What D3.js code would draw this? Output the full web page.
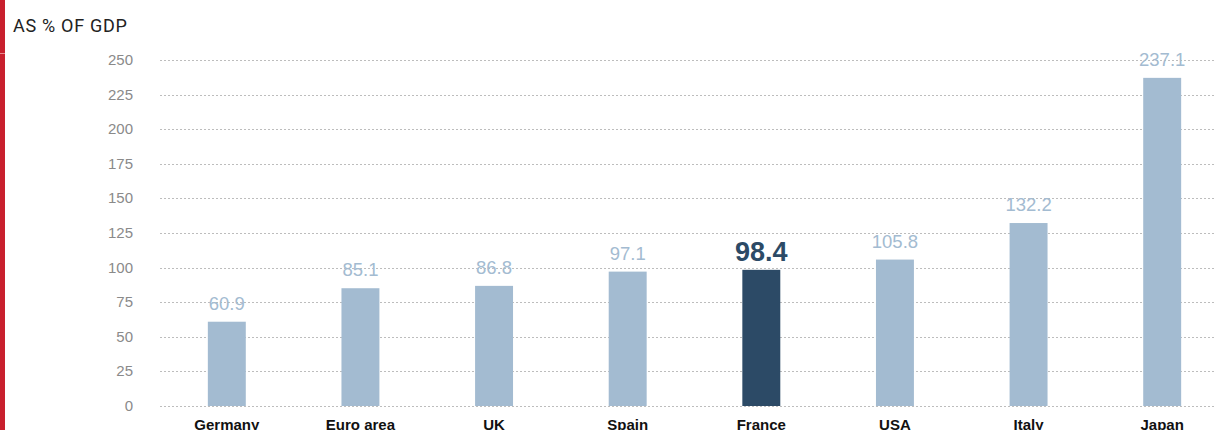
<!DOCTYPE html>
<meta charset="utf-8">
<head>
    <script src="https://d3js.org/d3.v7.min.js"></script>
</head>
<body style="margin:0; background:#fff;">
    <div id="svg_div"></div>
</body>
<script>

    var countries = ["Germany", "Euro area", "UK", "Spain", "France", "USA", "Italy", "Japan"];
    var debt_values = [60.9, 85.1, 86.8, 97.1, 98.4, 105.8, 132.2, 237.1];
    var y_ticks = [0, 25, 50, 75, 100, 125, 150, 175, 200, 225, 250];
    var highlight = "France";

    var width = 1214, height = 430;

    var svg = d3.select("#svg_div").append("svg")
        .attr("width", width)
        .attr("height", height)
        .style("display", "block");

    // red stripe on the left
    svg.append("rect")
        .attr("x", 0).attr("y", 0)
        .attr("width", 5).attr("height", height)
        .attr("fill", "#c8202e");
    svg.append("line")
        .attr("x1", 0).attr("x2", 5)
        .attr("y1", 53.5).attr("y2", 53.5)
        .attr("stroke", "#e88a90").attr("stroke-width", 1);

    svg.append("text")
        .attr("x", 13).attr("y", 32)
        .style("font-family", "Roboto, sans-serif")
        .style("font-size", "18px")
        .style("letter-spacing", "0.7px")
        .attr("fill", "#222")
        .text("AS % OF GDP");

    let x = d3.scaleBand()
        .domain(countries)
        .range([160, 1229])
        .paddingInner(0.716)
        .paddingOuter(0.358);

    let y = d3.scaleLinear()
        .domain([0, 250])
        .range([406, 60]);

    // grid lines
    svg.append("g")
        .selectAll("line")
        .data(y_ticks)
        .enter().append("line")
        .attr("x1", 160).attr("x2", width)
        .attr("y1", d => Math.round(y(d)) + 0.5)
        .attr("y2", d => Math.round(y(d)) + 0.5)
        .attr("stroke", "#bdbdbd")
        .attr("stroke-width", 1)
        .attr("stroke-dasharray", "2,2");

    // y tick labels
    svg.append("g")
        .selectAll("text")
        .data(y_ticks)
        .enter().append("text")
        .attr("x", 133)
        .attr("y", d => y(d) + 5)
        .attr("text-anchor", "end")
        .style("font-family", "Arial, 'Liberation Sans', sans-serif")
        .style("font-size", "15px")
        .attr("fill", "#8a8a8a")
        .text(d => d);

    let data = countries.map((c, i) => ({ country: c, value: debt_values[i] }));

    // bars
    svg.append("g")
        .selectAll("rect")
        .data(data)
        .enter().append("rect")
        .attr("x", d => x(d.country))
        .attr("width", x.bandwidth())
        .attr("y", d => y(d.value))
        .attr("height", d => y(0) - y(d.value))
        .attr("fill", d => d.country === highlight ? "#2c4a66" : "#a3bbd1");

    // value labels
    svg.append("g")
        .selectAll("text")
        .data(data)
        .enter().append("text")
        .attr("x", d => x(d.country) + x.bandwidth() / 2)
        .attr("y", d => y(d.value) - (d.country === highlight ? 9 : 12))
        .attr("text-anchor", "middle")
        .style("font-family", "Arial, 'Liberation Sans', sans-serif")
        .style("font-size", d => d.country === highlight ? "27px" : "18.5px")
        .style("font-weight", d => d.country === highlight ? "bold" : "normal")
        .attr("fill", d => d.country === highlight ? "#2c4a66" : "#a3bbd1")
        .text(d => d.value.toFixed(1));

    // category labels (cut off at the bottom edge, as in the source)
    svg.append("g")
        .selectAll("text")
        .data(data)
        .enter().append("text")
        .attr("x", d => x(d.country) + x.bandwidth() / 2)
        .attr("y", 430)
        .attr("text-anchor", "middle")
        .style("font-family", "Arial, 'Liberation Sans', sans-serif")
        .style("font-size", "15px")
        .style("font-weight", "bold")
        .attr("fill", "#111")
        .text(d => d.country);

</script>
